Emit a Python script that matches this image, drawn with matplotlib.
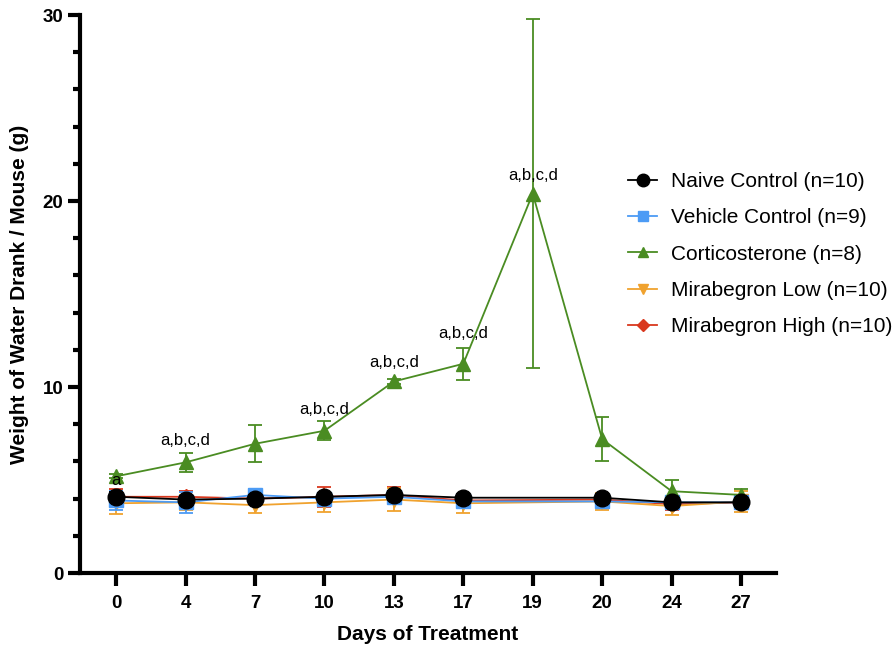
import matplotlib
matplotlib.use("Agg")
import matplotlib.pyplot as plt
from matplotlib.lines import Line2D
from matplotlib.ticker import MultipleLocator

plt.rcParams['font.family'] = ['Liberation Sans', 'DejaVu Sans']

days = [0, 4, 7, 10, 13, 17, 19, 20, 24, 27]

naive = [4.1, 3.95, 4.0, 4.1, 4.2, 4.05, None, 4.05, 3.8, 3.8]
naive_err = [0.25, 0.2, 0.2, 0.2, 0.2, 0.2, None, 0.2, 0.2, 0.2]
vehicle = [3.9, 3.8, 4.2, 4.0, 4.1, 3.85, None, 3.85, 3.8, 3.8]
vehicle_err = [0.5, 0.55, 0.3, 0.3, 0.3, 0.3, None, 0.3, 0.3, 0.3]
cort = [5.2, 5.95, 6.95, 7.65, 10.3, 11.25, 20.4, 7.2, 4.4, 4.2]
cort_err = [0.1, 0.5, 1.0, 0.5, 0.15, 0.85, 9.4, 1.2, 0.6, 0.3]
mira_low = [3.75, 3.8, 3.65, 3.8, 3.95, 3.75, None, 3.85, 3.6, 3.85]
mira_low_err = [0.6, 0.4, 0.4, 0.5, 0.6, 0.5, None, 0.45, 0.5, 0.55]
mira_high = [4.1, 4.1, 4.0, 4.1, 4.2, 3.9, None, 3.95, 3.7, 3.8]
mira_high_err = [0.4, 0.3, 0.3, 0.55, 0.45, 0.3, None, 0.3, 0.3, 0.3]

annot_days = [0, 4, 10, 13, 17, 19]
annot_text = ['a', 'a,b,c,d', 'a,b,c,d', 'a,b,c,d', 'a,b,c,d', 'a,b,c,d']
annot_y = [4.95, 7.15, 8.8, 11.3, 12.9, 21.35]

series = [
    ("Mirabegron High (n=10)", mira_high, mira_high_err, '#D9381E', 'D', 8, 2),
    ("Mirabegron Low (n=10)", mira_low, mira_low_err, '#F0A22E', 'v', 10, 3),
    ("Vehicle Control (n=9)", vehicle, vehicle_err, '#4C9BF5', 's', 10, 4),
    ("Naive Control (n=10)", naive, naive_err, '#000000', 'o', 12, 6),
    ("Corticosterone (n=8)", cort, cort_err, '#4A8C22', '^', 10, 5),
]

fig = plt.figure(figsize=(8.92, 6.48), dpi=100)
ax = fig.add_axes([0.0897, 0.1157, 0.780, 0.861])

handles = {}
for name, vals, errs, color, mk, ms, z in series:
    xs = [i for i, v in enumerate(vals) if v is not None]
    ys = [vals[i] for i in xs]
    es = [errs[i] for i in xs]
    ax.errorbar(xs, ys, yerr=es, color=color, marker=mk, markersize=ms,
                linewidth=1.3, elinewidth=1.3, capsize=5, capthick=1.3,
                zorder=z)
    handles[name] = Line2D([], [], color=color, marker=mk,
                           markersize=ms * 0.75, linewidth=1.3)

for d, t, y in zip(annot_days, annot_text, annot_y):
    ax.text(days.index(d), y, t, ha='center', va='center', fontsize=12, zorder=10)

ax.set_xlim(-0.52, 9.5)
ax.set_ylim(0, 30)
ax.set_xticks(range(len(days)))
ax.set_xticklabels([str(d) for d in days])
ax.yaxis.set_major_locator(MultipleLocator(10))
ax.yaxis.set_minor_locator(MultipleLocator(2))

for s in ['top', 'right']:
    ax.spines[s].set_visible(False)
for s in ['left', 'bottom']:
    ax.spines[s].set_linewidth(3)
ax.tick_params(axis='both', which='major', width=3, length=9, labelsize=13.5)
ax.tick_params(axis='x', which='major', pad=7)
ax.tick_params(axis='y', which='major', pad=3)
ax.tick_params(axis='y', which='minor', width=3, length=5)
for lab in ax.get_xticklabels() + ax.get_yticklabels():
    lab.set_fontweight('bold')

ax.set_xlabel('Days of Treatment', fontsize=15, fontweight='bold', labelpad=9)
ax.set_ylabel('Weight of Water Drank / Mouse (g)', fontsize=15, fontweight='bold', labelpad=10)

order = ["Naive Control (n=10)", "Vehicle Control (n=9)", "Corticosterone (n=8)",
         "Mirabegron Low (n=10)", "Mirabegron High (n=10)"]
leg = fig.legend([handles[n] for n in order], order, loc='upper left',
                 bbox_to_anchor=(0.704, 0.7346), frameon=False, fontsize=15,
                 labelspacing=0.83, handlelength=1.4, handletextpad=0.67,
                 borderaxespad=0, borderpad=0)

fig.savefig('out.png', dpi=100)
